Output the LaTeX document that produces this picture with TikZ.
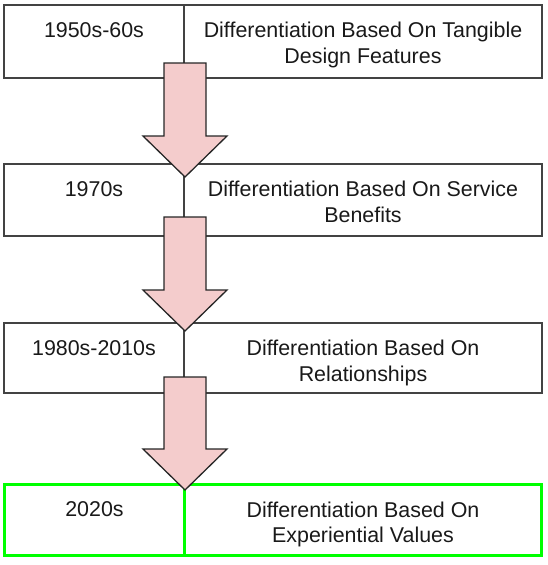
\documentclass[tikz,border=0pt]{standalone}
\usepackage{fontspec}
\setmainfont{Liberation Sans}
\usetikzlibrary{positioning}

\definecolor{arrowpink}{HTML}{F4CCCC}
\definecolor{boxgray}{HTML}{434343}
\definecolor{nowgreen}{HTML}{00FF00}

\tikzset{
  cell/.style={draw=boxgray, line width=1.2pt, rectangle, minimum height=72pt,
    inner sep=0pt, outer sep=0pt, anchor=north west},
  yearcell/.style={cell, minimum width=180pt},
  desccell/.style={cell, minimum width=358pt},
  nowcell/.style={draw=nowgreen, line width=3pt},
  celltext/.style={inner sep=0pt, align=center, text=black!90, font=\fontsize{21.4}{25.5}\selectfont},
  blockarrow/.style={fill=arrowpink, draw=black!85, line width=1.3pt},
}

\begin{document}
\begin{tikzpicture}[x=1pt, y=-1pt]
  \useasboundingbox (0,0) rectangle (547,565);
  % rows
  \node[yearcell, minimum height=73pt] (year1) at (4,5) {};
  \node[desccell, minimum height=73pt] (desc1) at (year1.north east) {};
  \node[yearcell] (year2) at (4,164) {};
  \node[desccell] (desc2) at (year2.north east) {};
  \node[yearcell, minimum height=70pt] (year3) at (4,323) {};
  \node[desccell, minimum height=70pt] (desc3) at (year3.north east) {};
  \node[yearcell, nowcell, minimum height=71pt] (year4) at (4.5,484.5) {};
  \node[desccell, nowcell, minimum height=71pt, minimum width=357pt] (desc4) at (year4.north east) {};
  % texts
  \node[celltext, below=17.2pt of year1.north] (year1txt) {1950s-60s};
  \node[celltext, below=17.2pt of desc1.north] (desc1txt) {Differentiation Based On Tangible\\Design Features};
  \node[celltext, below=17.2pt of year2.north] (year2txt) {1970s};
  \node[celltext, below=17.2pt of desc2.north] (desc2txt) {Differentiation Based On Service\\Benefits};
  \node[celltext, below=17.2pt of year3.north] (year3txt) {1980s-2010s};
  \node[celltext, below=17.2pt of desc3.north] (desc3txt) {Differentiation Based On\\Relationships};
  \node[celltext, below=17.2pt of year4.north] (year4txt) {2020s};
  \node[celltext, below=17.2pt of desc4.north] (desc4txt) {Differentiation Based On\\Experiential Values};
  % arrows
  \coordinate (arr1) at (185,63);
  \coordinate (arr2) at (185,217);
  \coordinate (arr3) at (185,377);
  \filldraw[blockarrow] (arr1) ++(-21,0) -- ++(0,73) -- ++(-21,0) -- ++(42,41) -- ++(42,-41) -- ++(-21,0) -- ++(0,-73) -- cycle;
  \filldraw[blockarrow] (arr2) ++(-21,0) -- ++(0,73) -- ++(-21,0) -- ++(42,41) -- ++(42,-41) -- ++(-21,0) -- ++(0,-73) -- cycle;
  \filldraw[blockarrow] (arr3) ++(-21,0) -- ++(0,72) -- ++(-21,0) -- ++(42,41) -- ++(42,-41) -- ++(-21,0) -- ++(0,-72) -- cycle;
\end{tikzpicture}
\end{document}
